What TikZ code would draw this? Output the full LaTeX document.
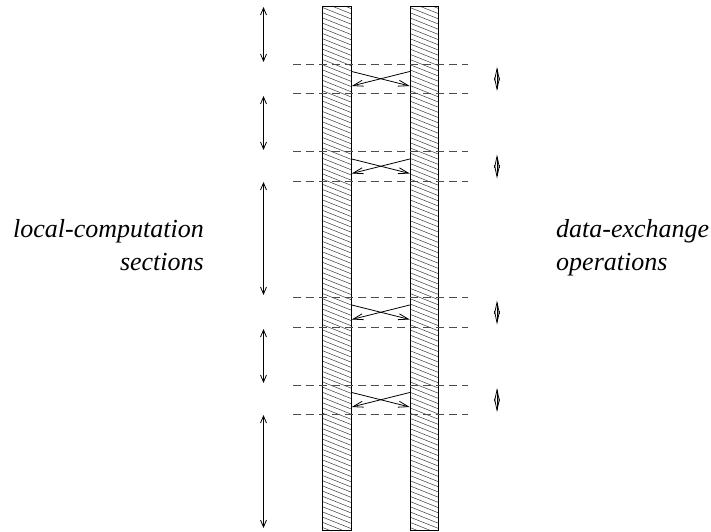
\documentclass[tikz,border=0pt]{standalone}
\usepackage{fontspec}
\newfontfamily\labelfont{Liberation Serif Italic}
\usetikzlibrary{arrows.meta}
\begin{document}
\begin{tikzpicture}[x=1pt,y=-1pt,
  hatchline/.style={line width=0.5pt, black!75},
  bar/.style={draw, line width=1pt, inner sep=0pt, minimum width=28.5pt, minimum height=524pt,
    path picture={\foreach \k in {-14,...,110}{
        \draw[hatchline] ([shift={(-4,\k*5.2)}]path picture bounding box.north west) -- ++(60,24);}}},
  boundary/.style={dash pattern=on 8pt off 5pt, line width=0.7pt, black!70},
  swap/.style={line width=0.8pt, -{Straight Barb[length=10pt,width=6pt]}},
  span/.style={line width=0.8pt, {Straight Barb[length=7pt,width=6pt]}-{Straight Barb[length=7pt,width=6pt]}},
  exch/.style={line width=0.8pt, {Straight Barb[length=11.5pt,width=5pt]}-{Straight Barb[length=11.5pt,width=5pt]}},
  label/.style={font=\labelfont\fontsize{26}{33}\selectfont, inner sep=0pt}
]
\useasboundingbox (0,0) rectangle (711,531);

% the two processor bars
\node[bar] (barL) at (337,268) {};
\node[bar] (barR) at (424.5,268) {};

% synchronisation boundaries and the exchanges between them
\foreach \t [count=\i] in {64,151.5,297.5,385}{
  \coordinate (d\i a) at (293,\t);
  \coordinate (d\i b) at (468,\t);
  \coordinate (e\i a) at (293,\t+29.5);
  \coordinate (e\i b) at (468,\t+29.5);
  \draw[boundary] (d\i a) -- (d\i b);
  \draw[boundary] (e\i a) -- (e\i b);
  \coordinate (sL\i) at (barL.east |- 0,\t+7.5);
  \coordinate (tL\i) at (barL.east |- 0,\t+22);
  \coordinate (sR\i) at (barR.west |- 0,\t+7.5);
  \coordinate (tR\i) at (barR.west |- 0,\t+22);
  \draw[swap] (sL\i) -- (tR\i);
  \draw[swap] (sR\i) -- (tL\i);
  \coordinate (xa\i) at (497,\t+3);
  \coordinate (xb\i) at (497,\t+27);
  \draw[exch] (xa\i) -- (xb\i);
}

% extents of the local-computation sections
\foreach \a/\b [count=\i] in {7/62,96/150,182/295,329/383,415/528}{
  \coordinate (ca\i) at (263.5,\a);
  \coordinate (cb\i) at (263.5,\b);
  \draw[span] (ca\i) -- (cb\i);
}

% labels
\node[label, anchor=base east] (lc1) at (204,237) {local-computation};
\node[label, anchor=base east] (lc2) at (204,270) {sections};
\node[label, anchor=base west] (de1) at (556,237) {data-exchange};
\node[label, anchor=base west] (de2) at (556,270) {operations};
\end{tikzpicture}
\end{document}
